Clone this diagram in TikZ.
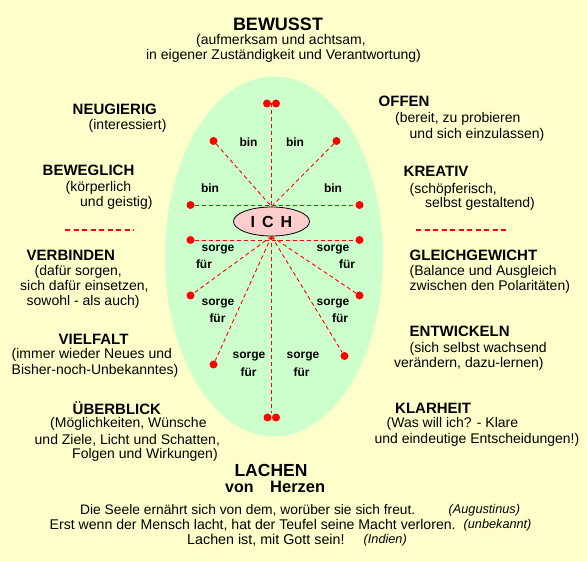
\documentclass[tikz,border=0pt]{standalone}
\usepackage{fontspec}
\usetikzlibrary{shapes.geometric}
\setmainfont{Liberation Sans}
\definecolor{bgyellow}{HTML}{FFFFCC}
\definecolor{eggreen}{HTML}{CCFFCC}
\definecolor{ichpink}{HTML}{FFCCCC}
\definecolor{dotred}{HTML}{FF0000}
\tikzset{
  head/.style={font=\fontsize{15}{17}\selectfont\bfseries, inner sep=0pt, anchor=west},
  body/.style={font=\fontsize{14}{16}\selectfont, inner sep=0pt, anchor=west},
  quot/.style={font=\fontsize{13.8}{15}\selectfont, inner sep=0pt, anchor=west},
  src/.style={font=\fontsize{12.7}{14}\selectfont\itshape, inner sep=0pt, anchor=west},
  lbl/.style={font=\fontsize{12}{14}\selectfont\bfseries, inner sep=0pt},
  reddot/.style={circle, fill=dotred, minimum size=8pt, inner sep=0pt},
  conn/.style={dotred, line width=0.9pt, dash pattern=on 4pt off 3pt},
  sep/.style={dotred, line width=1.3pt, dash pattern=on 5pt off 3.5pt}
}
\begin{document}
\begin{tikzpicture}[x=1pt,y=-1pt]
\useasboundingbox (0,0) rectangle (587,561);
\fill[bgyellow] (0,0) rectangle (587,561);
% big ellipse
\fill[eggreen] (274,256.5) ellipse [x radius=109, y radius=180];

% top
\node[font=\fontsize{18}{20}\selectfont\bfseries, inner sep=0pt] (bewusst) at (278,24) {BEWUSST};
\node[body, anchor=center] (bew1) at (281,41) {(aufmerksam und achtsam,};
\node[body, anchor=center] (bew2) at (283.5,56) {in eigener Zuständigkeit und Verantwortung)};

% left column
\node[head] (neug) at (72.5,109.5) {NEUGIERIG};
\node[body] (neug1) at (88.5,125.5) {(interessiert)};
\node[head] (bewg) at (42.5,170.5) {BEWEGLICH};
\node[body] (bewg1) at (65.5,187.5) {(körperlich};
\node[body] (bewg2) at (80,202.5) {und geistig)};

\node[head] (verb) at (26.5,255.5) {VERBINDEN};
\node[body] (verb1) at (34.5,271.5) {(dafür sorgen,};
\node[body] (verb2) at (20,286.5) {sich dafür einsetzen,};
\node[body] (verb3) at (26.5,301.5) {sowohl - als auch)};
\node[head] (vielf) at (58.5,339.5) {VIELFALT};
\node[body] (vielf1) at (11.5,355) {(immer wieder Neues und};
\node[body] (vielf2) at (11.5,371) {Bisher-noch-Unbekanntes)};
\node[head] (uebb) at (72.5,408.5) {ÜBERBLICK};
\node[body] (uebb1) at (50,424) {(Möglichkeiten, Wünsche};
\node[body] (uebb2) at (34.5,440) {und Ziele, Licht und Schatten,};
\node[body] (uebb3) at (72,455) {Folgen und Wirkungen)};

% right column
\node[head] (offen) at (378.5,101) {OFFEN};
\node[body] (offen1) at (395,118.5) {(bereit, zu probieren};
\node[body] (offen2) at (409.5,134.5) {und sich einzulassen)};
\node[head] (krea) at (403.5,171) {KREATIV};
\node[body] (krea1) at (409.5,189.5) {(schöpferisch,};
\node[body] (krea2) at (425,204) {selbst gestaltend)};

\node[head] (gleich) at (409.5,255.5) {GLEICHGEWICHT};
\node[body] (gleich1) at (409.5,271.5) {(Balance und Ausgleich};
\node[body] (gleich2) at (409.5,286.5) {zwischen den Polaritäten)};
\node[head] (entw) at (409.5,331.5) {ENTWICKELN};
\node[body] (entw1) at (409.5,348.5) {(sich selbst wachsend};
\node[body] (entw2) at (394,363.5) {verändern, dazu-lernen)};
\node[head] (klar) at (395,408.5) {KLARHEIT};
\node[body] (klar1) at (386.5,424) {(Was will ich? - Klare};
\node[body, anchor=east] (klar2) at (579.5,440) {und eindeutige Entscheidungen!)};

% separators
\coordinate (sepL1) at (65,230);
\coordinate (sepL2) at (134,230);
\coordinate (sepR1) at (416,230);
\coordinate (sepR2) at (509,230);
\draw[sep] (sepL1) -- (sepL2);
\draw[sep] (sepR1) -- (sepR2);

% ICH
\node[ellipse, draw=black, line width=0.8pt, fill=ichpink, minimum width=76pt, minimum height=29pt, inner sep=0pt,
      font=\fontsize{16}{18}\selectfont\bfseries] (ich) at (271.5,221.5) {I\hspace{7pt}C\hspace{7pt}H};

% dots
\node[reddot] (t1) at (267,103.5) {};
\node[reddot] (t2) at (276,103.5) {};
\coordinate (tm) at (271.5,103.5);
\node[reddot] (ul) at (213.5,141) {};
\node[reddot] (ur) at (336.5,141) {};
\node[reddot] (ml) at (190.5,205) {};
\node[reddot] (mr) at (359.5,205) {};
\node[reddot] (ll) at (190.5,240) {};
\node[reddot] (lr) at (359.5,240) {};
\node[reddot] (l2) at (190.5,295.5) {};
\node[reddot] (r2) at (359.5,295.5) {};
\node[reddot] (l3) at (213.5,364.5) {};
\node[reddot] (r3) at (344.5,356) {};
\node[reddot] (b1) at (267.5,417.5) {};
\node[reddot] (b2) at (276,417.5) {};
\coordinate (bm) at (271.5,413.5);

% connectors
\draw[conn] (tm) -- (ich.north);
\draw[conn] (ul) -- (ich.north);
\draw[conn] (ur) -- (ich.north);
\draw[conn] (ml) -- (mr);
\draw[conn] (ll) -- (lr);
\draw[conn] (ich.south) -- (l2);
\draw[conn] (ich.south) -- (r2);
\draw[conn] (ich.south) -- (l3);
\draw[conn] (ich.south) -- (r3);
\draw[conn] (ich.south) -- (bm);

% labels
\node[lbl] (bin1) at (248.5,142) {bin};
\node[lbl] (bin2) at (295,142) {bin};
\node[lbl] (bin3) at (210,188.5) {bin};
\node[lbl] (bin4) at (333,188.5) {bin};
\node[lbl] (s1) at (218,249.5) {sorge};
\node[lbl] (f1) at (204,264) {für};
\node[lbl] (s2) at (333,249.5) {sorge};
\node[lbl] (f2) at (347,264) {für};
\node[lbl] (s3) at (218,303.5) {sorge};
\node[lbl] (f3) at (217.5,318.5) {für};
\node[lbl] (s4) at (333,303.5) {sorge};
\node[lbl] (f4) at (340,318.5) {für};
\node[lbl] (s5) at (249,357) {sorge};
\node[lbl] (f5) at (248.5,372.5) {für};
\node[lbl] (s6) at (303,357) {sorge};
\node[lbl] (f6) at (301.5,372.5) {für};

% bottom
\node[font=\fontsize{17.5}{20}\selectfont\bfseries, inner sep=0pt] (lachen) at (271,470) {LACHEN};
\node[font=\fontsize{16}{18}\selectfont\bfseries, inner sep=0pt, anchor=base west] (von) at (225,492.5) {von};
\node[font=\fontsize{16.5}{18}\selectfont\bfseries, inner sep=0pt, anchor=base west] (herzen) at (270,492.5) {Herzen};

\node[quot] (q1) at (80,510) {Die Seele ernährt sich von dem, worüber sie sich freut.};
\node[src] (a1) at (448.5,510) {(Augustinus)};
\node[quot, font=\fontsize{14.1}{16}\selectfont] (q2) at (49.5,525) {Erst wenn der Mensch lacht, hat der Teufel seine Macht verloren.};
\node[src] (a2) at (463.5,525) {(unbekannt)};
\node[quot, font=\fontsize{14.3}{16}\selectfont] (q3) at (187,540) {Lachen ist, mit Gott sein!};
\node[src] (a3) at (363.5,540) {(Indien)};
\end{tikzpicture}
\end{document}
